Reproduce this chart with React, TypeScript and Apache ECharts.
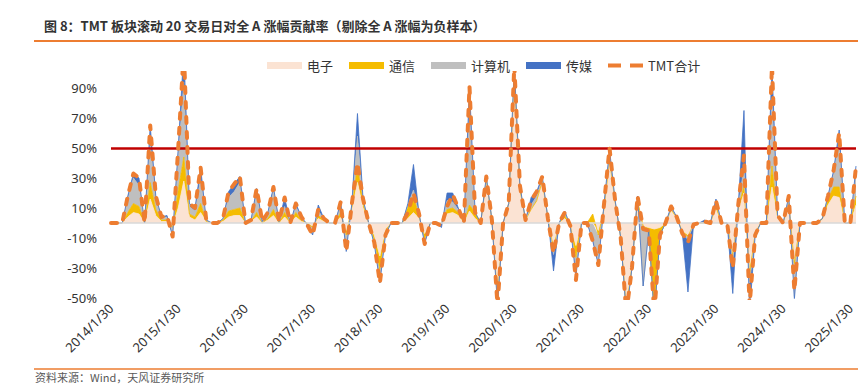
import React, { useEffect, useRef } from 'react';
import * as echarts from 'echarts';

// Month-end sample dates, 2014/1 .. 2025/2 (only January labels are shown)
const categories: string[] = [];
for (let y = 2014; y <= 2025; y++) {
  for (let m = 1; m <= 12; m++) {
    if (categories.length < 134) categories.push(`${y}/${m}/${m === 2 ? 28 : 30}`);
  }
}

const dianzi = [
  0, 0, 0, 4, 7, 6, 0, 16, 5, 1,
  1, -2, 10, 28, 4, 2, 7, 1, 0, 0,
  1, 4, 5, 5, 0, 1, 4, 0, 2, 5,
  0, 4, 0, 4, 1, 0, -2, 3, 1, 0,
  0, 4, -5, 8, 27, 10, 0, -8, -22, -4,
  0, 0, 0, 3, 7, 3, -7, 0, 0, 0,
  6, 7, 5, 0, 8, 3, 0, 28, 2, -45,
  0, 12, 95, 20, 2, 9, 14, 27, 3, -14,
  0, 3, -1, -15, 0, 0, 0, -5, 8, 40,
  13, -8, -52, -28, 12, -2, -3, -4, -3, 0,
  8, 3, -5, -8, -1, 0, 0, 0, 9, 0,
  0, -20, 8, 20, -30, -5, 0, 0, 24, 3,
  0, 12, -25, 0, 0, 0, 0, 2, 12, 18,
  17, 0, 0, 12,
];

const tongxin = [
  0, 0, 0, 3, 6, 5, 0, 11, 4, 1,
  1, -1, 12, 16, 2, 2, 6, 0, 0, 0,
  1, 4, 4, 5, 0, 0, 3, 0, 1, 4,
  0, 3, 0, 3, 1, 0, -1, 2, 1, 0,
  0, 3, -3, 3, 11, 3, 0, -4, -9, -2,
  0, 0, 0, 8, 11, 2, -4, 0, 0, 0,
  3, 3, 2, 0, 4, 4, 0, 1, 0, -5,
  0, 1, 3, 3, 0, 0, 1, 1, 0, -4,
  0, 2, -1, -8, 0, 0, 6, -3, 1, 2,
  1, -2, -6, -1, 3, 0, -2, -58, -5, 0,
  1, 1, -1, -1, 0, 0, 0, 0, 2, 0,
  0, -2, 2, 5, -5, -2, 0, 0, 14, 1,
  0, 1, -2, 0, 0, 0, 0, 1, 4, 6,
  7, 0, 0, 6,
];

const jisuanji = [
  0, 0, 0, 9, 17, 14, 0, 28, 7, 2,
  2, -4, 22, 50, 5, 4, 17, 1, 0, 0,
  1, 9, 12, 17, 0, 1, 13, 1, 3, 13,
  1, 4, 0, 4, 2, -1, -4, 3, 1, 0,
  0, 5, -6, 1, 20, 2, 0, -1, -5, -1,
  0, 0, 0, 1, 4, 1, -2, 0, 0, 0,
  6, 4, 2, 0, 64, 0, 0, 1, 0, -3,
  0, 0, 4, 1, 0, 3, 3, 2, 0, -3,
  0, 3, 0, -8, 0, 0, -10, -18, 2, 4,
  1, 0, -2, -1, 3, -40, 0, -1, 0, 0,
  1, 0, -1, -2, 0, 0, 0, 0, 4, 0,
  0, -3, 2, 12, -5, -1, 0, 0, 45, 1,
  0, 4, -22, 0, 0, 0, 0, 0, 2, 9,
  32, 0, 0, 17,
];

const chuanmei = [
  0, 0, 0, 2, 3, 5, 0, 10, 2, 0,
  1, -2, 6, 21, 2, 2, 7, 0, 0, 0,
  0, 4, 5, 4, 0, 0, 3, 0, 1, 2,
  0, 6, 0, 2, 0, 0, -1, 4, 0, 0,
  0, 2, -5, 1, 15, 1, 0, -1, -4, -1,
  0, 0, 0, 1, 17, 0, -1, 0, 0, -3,
  5, 6, 1, 0, 15, 0, 0, 1, 0, -2,
  0, 0, 3, 1, 0, 5, 3, 1, 0, -11,
  0, 0, 0, -5, 0, 0, -2, -2, 1, 3,
  0, 0, -1, 0, 0, 0, 0, 0, 0, 0,
  1, 0, 0, -35, 0, 0, 2, 0, 1, 0,
  0, -22, 1, 38, -20, 0, 0, 0, 22, 0,
  0, 1, -2, 0, 0, 0, 0, 0, 0, 2,
  6, 0, 0, 3,
];

const tmtTotal = [
  0, 0, 0, 18, 33, 30, 0, 65, 18, 4,
  5, -9, 50, 115, 13, 10, 37, 2, 0, 0,
  3, 21, 26, 31, 0, 2, 23, 1, 7, 24,
  1, 17, 0, 13, 4, -1, -8, 9, 3, 0,
  0, 14, -19, 13, 40, 16, 0, -13, -40, -8,
  0, 0, 0, 7, 20, 6, -14, 0, 0, -2,
  11, 19, 10, 0, 91, 7, 0, 31, 2, -55,
  0, 13, 105, 25, 2, 15, 21, 31, 3, -20,
  0, 7, -2, -38, 0, 0, -12, -28, 12, 50,
  15, -10, -60, -30, 18, -4, -5, -60, -8, 0,
  11, 4, -7, -13, -1, 0, 1, 0, 15, 0,
  0, -30, 13, 45, -55, -8, 0, 0, 105, 5,
  0, 18, -45, 0, 0, 0, 0, 3, 18, 35,
  60, 0, 0, 38,
];

const yTicks = { min: -50, max: 100, interval: 20 };
const threshold = 50;

const FONT = "'Noto Sans', 'Noto Sans CJK SC', sans-serif";
const CJK = "'Noto Sans CJK SC', 'Noto Sans', sans-serif";

const areaSeries = (name: string, data: number[], color: string) => ({
  name,
  type: 'line',
  stack: 'tmt',
  data,
  symbol: 'none',
  color,
  itemStyle: { color },
  lineStyle: { color, width: 0.8 },
  areaStyle: { color, opacity: 1 },
});

export default function App() {
  const ref = useRef<HTMLDivElement>(null);
  useEffect(() => {
    if (!ref.current) return;
    const chart = echarts.init(ref.current, undefined, { renderer: 'svg' });
    chart.setOption({
      animation: false,
      backgroundColor: '#ffffff',
      graphic: [
        {
          type: 'text',
          left: 44,
          top: 19,
          style: {
            text: '图 8：TMT 板块滚动 20 交易日对全 A 涨幅贡献率（剔除全 A 涨幅为负样本）',
            font: `bold 13px ${CJK}`,
            fill: '#333333',
          },
        },
        {
          type: 'line',
          shape: { x1: 34, y1: 41, x2: 858, y2: 41 },
          style: { stroke: '#ED7D31', lineWidth: 2 },
        },
        {
          type: 'line',
          shape: { x1: 34, y1: 369, x2: 858, y2: 369 },
          style: { stroke: '#ED7D31', lineWidth: 1.5 },
        },
        {
          type: 'text',
          left: 35,
          top: 371,
          style: {
            text: '资料来源：Wind，天风证券研究所',
            font: `11px ${CJK}`,
            fill: '#595959',
          },
        },
      ],
      legend: {
        left: 262,
        top: 54,
        itemWidth: 35,
        itemHeight: 7,
        itemGap: 16,
        textStyle: { fontSize: 13, color: '#333333', fontFamily: CJK },
        data: [
          { name: '电子', icon: 'rect' },
          { name: '通信', icon: 'rect' },
          { name: '计算机', icon: 'rect' },
          { name: '传媒', icon: 'rect' },
          { name: 'TMT合计', icon: 'path://M0,0H13V4H0Z M22,0H35V4H22Z' },
        ],
      },
      grid: { left: 111, right: 2, top: 73, bottom: 86, containLabel: false },
      xAxis: {
        type: 'category',
        data: categories,
        boundaryGap: false,
        axisLine: { show: false },
        axisTick: { show: false },
        splitLine: { show: false },
        axisLabel: {
          interval: (index: number) => index % 12 === 0,
          rotate: 45,
          fontSize: 13,
          color: '#333333',
          fontFamily: FONT,
          margin: 8,
        },
      },
      yAxis: {
        type: 'value',
        min: yTicks.min,
        max: yTicks.max,
        interval: yTicks.interval,
        axisLine: { show: false },
        axisTick: { show: false },
        splitLine: { show: false },
        axisLabel: {
          formatter: '{value}%',
          fontSize: 13,
          color: '#333333',
          fontFamily: FONT,
          margin: 14,
          showMaxLabel: false,
        },
      },
      series: [
        areaSeries('电子', dianzi, '#FBE3D3'),
        areaSeries('通信', tongxin, '#F5BC00'),
        areaSeries('计算机', jisuanji, '#BFBFBF'),
        areaSeries('传媒', chuanmei, '#4472C4'),
        {
          name: 'TMT合计',
          type: 'line',
          data: tmtTotal,
          symbol: 'none',
          color: '#ED7D31',
          itemStyle: { color: '#ED7D31' },
          lineStyle: { color: '#ED7D31', width: 4, type: [6, 9], cap: 'round', join: 'round' },
          z: 5,
          markLine: {
            silent: true,
            symbol: ['none', 'none'],
            label: { show: false },
            data: [
              { yAxis: 0, lineStyle: { color: '#D9D9D9', width: 1.5, type: 'solid' } },
              { yAxis: threshold, lineStyle: { color: '#C00000', width: 2.5, type: 'solid' } },
            ],
          },
        },
      ],
    });
    return () => chart.dispose();
  }, []);
  return (
    <div
      ref={ref}
      style={{ position: 'absolute', left: 0, top: 0, width: 858, height: 384 }}
    />
  );
}
